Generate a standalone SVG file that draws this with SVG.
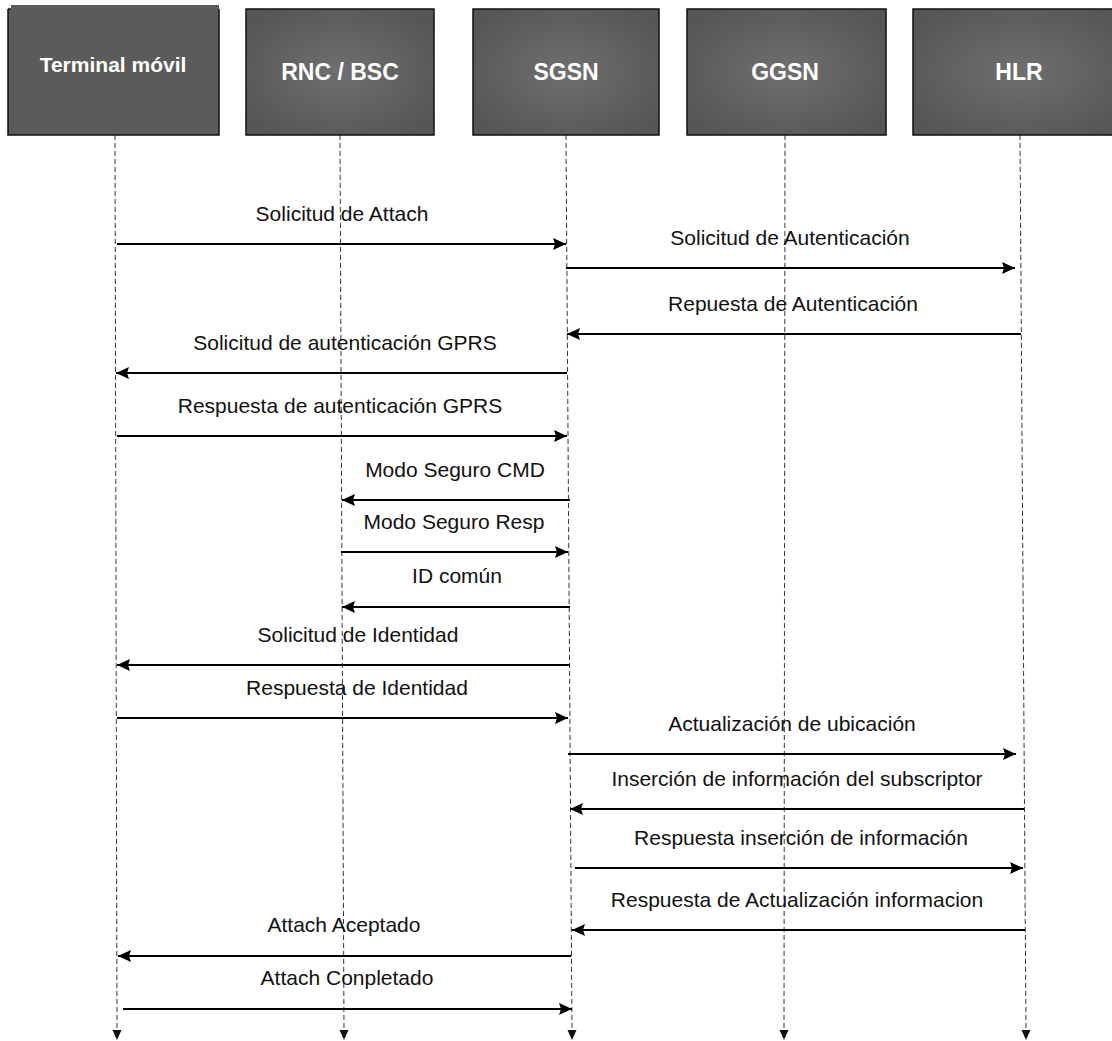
<svg xmlns="http://www.w3.org/2000/svg" width="1112" height="1041" viewBox="0 0 1112 1041">
  <style>
    .box { stroke: #111; stroke-width: 1.5; }
    .head { font-family: "Liberation Sans", Arial, sans-serif; font-weight: bold; font-size: 23px; fill: #ffffff; text-anchor: middle; }
    .life { stroke: #333; stroke-width: 1; stroke-dasharray: 5 3; fill: none; }
    .msg { stroke: #000; stroke-width: 1.9; fill: none; marker-end: url(#head); }
    .lbl { font-family: "Liberation Sans", Arial, sans-serif; font-size: 21px; fill: #111; text-anchor: middle; }
  </style>
  <defs>
    <radialGradient id="boxfill" cx="50%" cy="50%" r="60%">
      <stop offset="0" stop-color="#6f6f6f"/>
      <stop offset="1" stop-color="#565656"/>
    </radialGradient>
    <!-- filled arrowhead for message lines -->
    <marker id="head" viewBox="0 0 13 12" refX="13" refY="6" markerWidth="13" markerHeight="12" markerUnits="userSpaceOnUse" orient="auto">
      <path d="M0,0 L13,6 L0,12 L2,6 Z" fill="#000"/>
    </marker>
  </defs>
  <rect width="1112" height="1041" fill="#ffffff"/>

  <!-- lifelines -->
  <g id="lifelines">
    <line class="life" x1="115" y1="135" x2="117" y2="1032"/>
    <line class="life" x1="340" y1="135" x2="344" y2="1032"/>
    <line class="life" x1="566" y1="135" x2="572" y2="1032"/>
    <line class="life" x1="785" y1="135" x2="784" y2="1032"/>
    <line class="life" x1="1020" y1="135" x2="1026" y2="1032"/>
    <g fill="#111">
      <path d="M112.5,1030 L121.5,1030 L117,1040 Z"/>
      <path d="M339.5,1030 L348.5,1030 L344,1040 Z"/>
      <path d="M567.5,1030 L576.5,1030 L572,1040 Z"/>
      <path d="M779.5,1030 L788.5,1030 L784,1040 Z"/>
      <path d="M1021.5,1030 L1030.5,1030 L1026,1040 Z"/>
    </g>
  </g>

  <!-- participants -->
  <g id="terminal">
    <rect x="8" y="9" width="211" height="126" fill="#5b5b5b"/>
    <rect x="11" y="5" width="208" height="6" fill="#5b5b5b"/>
    <path d="M8,9 L11,9 M8,9 L8,135 L219,135 L219,9" fill="none" stroke="#111" stroke-width="1.5"/>
    <text class="head" x="113" y="72" style="font-size:21px">Terminal móvil</text>
  </g>
  <g id="rnc">
    <rect class="box" x="246" y="9" width="188" height="126" fill="url(#boxfill)"/>
    <text class="head" x="340" y="80">RNC / BSC</text>
  </g>
  <g id="sgsn">
    <rect class="box" x="473" y="9" width="186" height="126" fill="url(#boxfill)"/>
    <text class="head" x="566" y="80">SGSN</text>
  </g>
  <g id="ggsn">
    <rect class="box" x="687" y="9" width="199" height="126" fill="url(#boxfill)"/>
    <text class="head" x="785" y="80">GGSN</text>
  </g>
  <g id="hlr">
    <rect class="box" x="913" y="9" width="214" height="126" fill="url(#boxfill)"/>
    <text class="head" x="1019" y="80">HLR</text>
  </g>

  <!-- messages -->
  <g id="connectors">
    <line class="msg" x1="117" y1="244" x2="566" y2="244"/>
    <line class="msg" x1="566" y1="268" x2="1015" y2="268"/>
    <line class="msg" x1="1021" y1="334" x2="567" y2="334"/>
    <line class="msg" x1="567" y1="373" x2="116" y2="373"/>
    <line class="msg" x1="117" y1="436" x2="567" y2="436"/>
    <line class="msg" x1="570" y1="500" x2="342" y2="500"/>
    <line class="msg" x1="341" y1="552" x2="568" y2="552"/>
    <line class="msg" x1="570" y1="607" x2="342" y2="607"/>
    <line class="msg" x1="570" y1="665" x2="117" y2="665"/>
    <line class="msg" x1="117" y1="718" x2="568" y2="718"/>
    <line class="msg" x1="568" y1="754" x2="1016" y2="754"/>
    <line class="msg" x1="1024" y1="809" x2="570" y2="809"/>
    <line class="msg" x1="575" y1="868" x2="1023" y2="868"/>
    <line class="msg" x1="1025" y1="930" x2="572" y2="930"/>
    <line class="msg" x1="571" y1="956" x2="118" y2="956"/>
    <line class="msg" x1="123" y1="1009" x2="572" y2="1009"/>
  </g>

  <g id="labels">
    <text class="lbl" x="342" y="221">Solicitud de Attach</text>
    <text class="lbl" x="790" y="245">Solicitud de Autenticación</text>
    <text class="lbl" x="793" y="311">Repuesta de Autenticación</text>
    <text class="lbl" x="345" y="350">Solicitud de autenticación GPRS</text>
    <text class="lbl" x="340" y="413">Respuesta de autenticación GPRS</text>
    <text class="lbl" x="455" y="477">Modo Seguro CMD</text>
    <text class="lbl" x="454" y="529">Modo Seguro Resp</text>
    <text class="lbl" x="457" y="583">ID común</text>
    <text class="lbl" x="358" y="642">Solicitud de Identidad</text>
    <text class="lbl" x="357" y="695">Respuesta de Identidad</text>
    <text class="lbl" x="792" y="731">Actualización de ubicación</text>
    <text class="lbl" x="797" y="786">Inserción de información del subscriptor</text>
    <text class="lbl" x="801" y="845">Respuesta inserción de información</text>
    <text class="lbl" x="797" y="907">Respuesta de Actualización informacion</text>
    <text class="lbl" x="344" y="932">Attach Aceptado</text>
    <text class="lbl" x="347" y="985">Attach Conpletado</text>
  </g>
</svg>
